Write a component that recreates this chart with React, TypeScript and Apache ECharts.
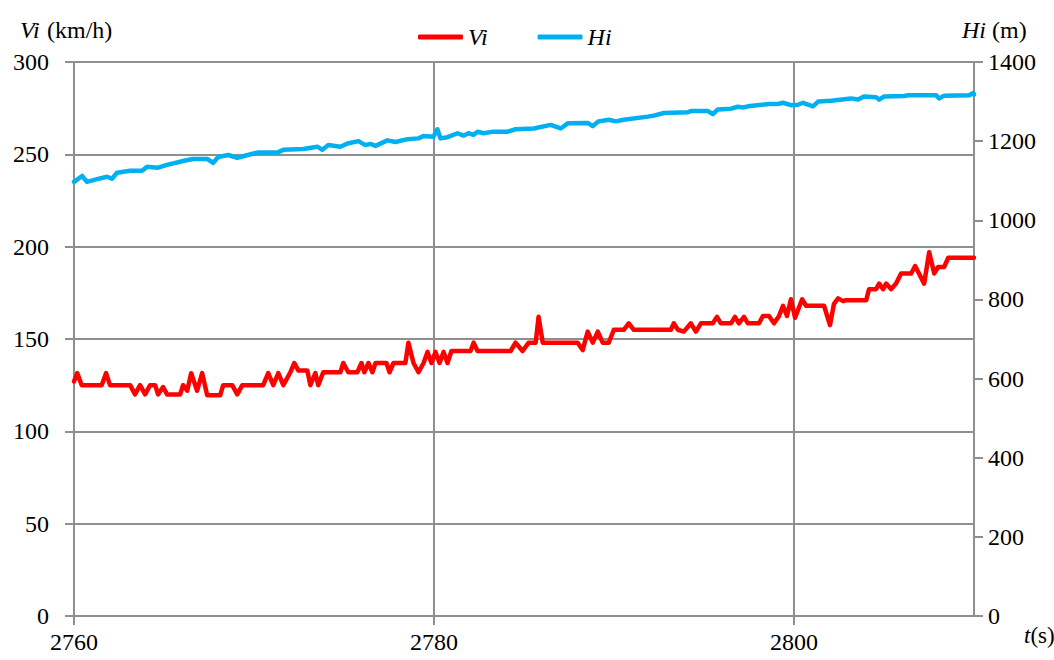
import React, { useEffect, useRef } from 'react';
import * as echarts from 'echarts';

const xTickValues = [2760, 2780, 2800];
const xMin = 2760;
const xMax = 2810;

const viTime = [
  2760.0, 2760.18, 2760.43, 2761.54, 2761.78, 2762.0, 2763.12, 2763.39, 2763.67, 2763.95,
  2764.23, 2764.51, 2764.67, 2764.95, 2765.17, 2765.9, 2766.06, 2766.29, 2766.51, 2766.84,
  2767.12, 2767.4, 2768.12, 2768.29, 2768.79, 2769.07, 2769.35, 2770.51, 2770.79, 2771.07,
  2771.35, 2771.63, 2772.02, 2772.24, 2772.46, 2772.96, 2773.13, 2773.41, 2773.57, 2773.85,
  2774.8, 2774.96, 2775.24, 2775.74, 2775.97, 2776.13, 2776.36, 2776.58, 2776.75, 2777.36,
  2777.53, 2777.75, 2778.41, 2778.58, 2778.86, 2779.14, 2779.42, 2779.64, 2779.86, 2780.08,
  2780.31, 2780.53, 2780.75, 2780.97, 2782.03, 2782.2, 2782.42, 2784.26, 2784.53, 2784.92,
  2785.26, 2785.65, 2785.81, 2786.04, 2787.98, 2788.26, 2788.54, 2788.82, 2789.1, 2789.37,
  2789.71, 2789.99, 2790.54, 2790.82, 2791.1, 2793.16, 2793.32, 2793.55, 2793.88, 2794.27,
  2794.55, 2794.83, 2795.49, 2795.72, 2795.94, 2796.5, 2796.72, 2796.94, 2797.22, 2797.44,
  2798.05, 2798.28, 2798.61, 2798.89, 2799.17, 2799.39, 2799.61, 2799.83, 2800.06, 2800.45,
  2800.67, 2801.67, 2802.0, 2802.22, 2802.45, 2802.73, 2802.89, 2804.01, 2804.17, 2804.56,
  2804.73, 2804.95, 2805.12, 2805.4, 2805.67, 2805.95, 2806.51, 2806.73, 2807.23, 2807.51,
  2807.79, 2808.01, 2808.34, 2808.57, 2810.0,
];
const viValue = [
  127, 131.5, 125, 125, 131.5, 125, 125, 120, 125, 120,
  125, 125, 120, 124, 120, 120, 125, 122, 131.5, 122,
  131.5, 119.5, 119.5, 125, 125, 120, 125, 125, 131.5, 125,
  131.5, 125, 132, 137, 133, 133, 125, 131.5, 125, 132,
  132, 137, 132, 132, 137, 132, 137, 132, 137, 137,
  132, 137, 137, 148, 137, 132, 137, 143, 137, 143,
  137, 143, 137, 143.5, 143.5, 148, 143.5, 143.5, 148, 143.5,
  148, 148, 162, 148, 148, 144, 154, 148, 154, 148,
  148, 155, 155, 158.5, 155, 155, 158.5, 155, 154, 158.5,
  154, 158.5, 158.5, 162, 158.5, 158.5, 162, 158.5, 162, 158.5,
  158.5, 162.5, 162.5, 158.5, 162.5, 168, 162.5, 171.5, 161.5, 171.5,
  168, 168, 157.5, 169, 172, 170.5, 171, 171, 177, 177,
  180, 177, 180, 177, 180, 185.5, 185.5, 189.5, 180, 197,
  185.5, 189, 189, 194, 194,
];

const hiTime = [
  2760.0, 2760.45, 2760.72, 2761.28, 2761.84, 2762.11, 2762.39, 2763.12, 2763.78, 2764.06,
  2764.67, 2765.17, 2766.18, 2766.62, 2767.4, 2767.73, 2768.01, 2768.57, 2769.07, 2770.18,
  2771.29, 2771.63, 2772.74, 2773.52, 2773.8, 2774.13, 2774.8, 2775.19, 2775.8, 2776.19,
  2776.47, 2776.75, 2777.41, 2777.86, 2778.53, 2779.14, 2779.42, 2779.97, 2780.19, 2780.36,
  2780.75, 2781.31, 2781.64, 2781.92, 2782.2, 2782.42, 2782.75, 2783.31, 2784.09, 2784.53,
  2785.54, 2786.48, 2787.04, 2787.43, 2788.54, 2788.82, 2789.15, 2789.71, 2790.1, 2790.54,
  2791.88, 2792.16, 2792.77, 2794.1, 2794.27, 2795.22, 2795.49, 2795.77, 2796.5, 2796.88,
  2797.16, 2797.44, 2798.61, 2799.11, 2799.39, 2799.83, 2800.22, 2800.5, 2801.06, 2801.34,
  2802.06, 2803.17, 2803.56, 2803.89, 2804.56, 2804.73, 2805.01, 2806.12, 2806.34, 2807.9,
  2808.06, 2808.34, 2809.74, 2809.96, 2810.0,
];
const hiValue = [
  1097, 1112, 1097, 1104, 1110, 1105, 1120, 1125, 1125, 1135,
  1133, 1140, 1151, 1155, 1155, 1145, 1160, 1165, 1158, 1171,
  1171, 1178, 1180, 1186, 1178, 1190, 1186, 1194, 1200, 1190,
  1193, 1188, 1202, 1198, 1205, 1207, 1213, 1211, 1230, 1207,
  1210, 1220, 1214, 1220, 1216, 1224, 1220, 1224, 1224, 1230,
  1232, 1241, 1232, 1245, 1246, 1238, 1250, 1254, 1250, 1254,
  1262, 1264, 1271, 1273, 1276, 1276, 1268, 1280, 1282, 1287,
  1285, 1288, 1294, 1294, 1297, 1291, 1292, 1297, 1288, 1300,
  1302, 1308, 1305, 1313, 1311, 1305, 1313, 1314, 1316, 1316,
  1308, 1315, 1316, 1322, 1318,
];

const FONT = 'Liberation Serif';
const GRID_COLOR = '#8f8f8f';

function plainLabel(v: number) {
  return String(v);
}

export default function App() {
  const ref = useRef<HTMLDivElement>(null);

  useEffect(() => {
    document.body.style.margin = '0';
    if (!ref.current) return;
    const chart = echarts.init(ref.current, undefined, { renderer: 'svg' });

    const viData = viTime.map((t, i) => [t, viValue[i]]);
    const hiData = hiTime.map((t, i) => [t, hiValue[i]]);

    const lineSt = { color: GRID_COLOR, width: 2 };

    chart.setOption({
      animation: false,
      grid: { left: 74, right: 80, top: 62, bottom: 44 },
      legend: {
        data: ['Vi', 'Hi'],
        left: 413,
        top: 20,
        icon: 'roundRect',
        itemWidth: 45,
        itemHeight: 5,
        itemGap: 50,
        textStyle: { color: '#000', fontFamily: FONT, fontSize: 24, fontStyle: 'italic' },
      },
      xAxis: {
        type: 'value',
        min: xMin,
        max: xMax,
        interval: 20,
        axisLine: { show: true, lineStyle: lineSt },
        axisTick: { show: true, length: 9, customValues: xTickValues, lineStyle: lineSt },
        axisLabel: { color: '#000', fontFamily: FONT, fontSize: 24, margin: 14, customValues: xTickValues, formatter: plainLabel },
        splitLine: { show: true, lineStyle: lineSt },
      },
      yAxis: [
        {
          type: 'value',
          min: 0,
          max: 300,
          interval: 50,
          position: 'left',
          axisLine: { show: true, lineStyle: lineSt },
          axisTick: { show: true, length: 9, lineStyle: lineSt },
          axisLabel: { color: '#000', fontFamily: FONT, fontSize: 24, margin: 25 },
          splitLine: { show: true, lineStyle: lineSt },
        },
        {
          type: 'value',
          min: 0,
          max: 1400,
          interval: 200,
          position: 'right',
          axisLine: { show: true, lineStyle: lineSt },
          axisTick: { show: true, length: 9, lineStyle: lineSt },
          axisLabel: { color: '#000', fontFamily: FONT, fontSize: 24, margin: 14, formatter: plainLabel },
          splitLine: { show: false },
        },
      ],
      graphic: [
        { type: 'text', x: 20, y: 18, style: { text: 'Vi', fontFamily: FONT, fontSize: 24, fontStyle: 'italic', fill: '#000' } },
        { type: 'text', x: 47, y: 18, style: { text: '(km/h)', fontFamily: FONT, fontSize: 24, fill: '#000' } },
        { type: 'text', x: 962, y: 18, style: { text: 'Hi', fontFamily: FONT, fontSize: 24, fontStyle: 'italic', fill: '#000' } },
        { type: 'text', x: 992, y: 18, style: { text: '(m)', fontFamily: FONT, fontSize: 24, fill: '#000' } },
      ],
      series: [
        {
          name: 'Vi',
          type: 'line',
          xAxisIndex: 0,
          yAxisIndex: 0,
          data: viData,
          showSymbol: false,
          color: '#ff0000',
          lineStyle: { color: '#ff0000', width: 4.5, cap: 'round', join: 'round' },
          z: 3,
        },
        {
          name: 'Hi',
          type: 'line',
          xAxisIndex: 0,
          yAxisIndex: 1,
          data: hiData,
          showSymbol: false,
          color: '#00b0f0',
          lineStyle: { color: '#00b0f0', width: 4.5, cap: 'round', join: 'round' },
          z: 3,
        },
      ],
    });

    return () => {
      chart.dispose();
    };
  }, []);

  return (
    <div style={{ position: 'relative', width: 1054, height: 660, background: '#fff', overflow: 'hidden' }}>
      <div ref={ref} style={{ width: 1054, height: 660 }} />
      <div
        style={{
          position: 'absolute',
          left: 1024,
          top: 623,
          fontFamily: FONT,
          fontSize: 23,
          lineHeight: '26px',
          color: '#000',
          whiteSpace: 'nowrap',
          pointerEvents: 'none',
        }}
      >
        <i>t</i>(s)
      </div>
    </div>
  );
}
